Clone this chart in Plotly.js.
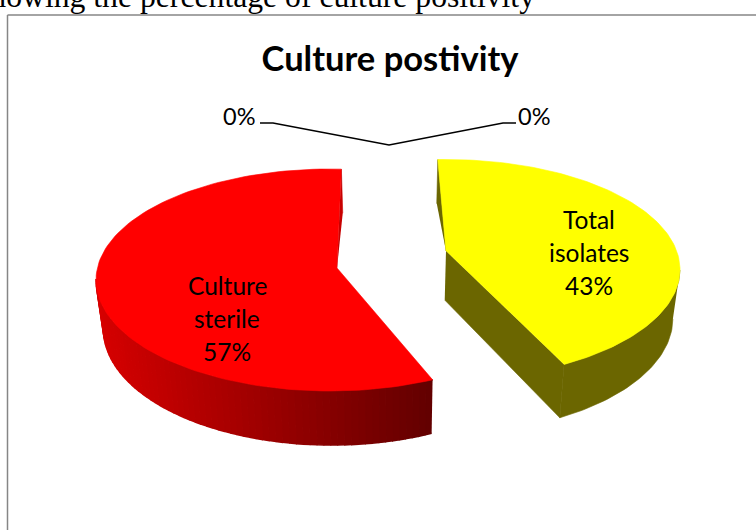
<!DOCTYPE html>
<html><head><meta charset="utf-8">
<script src="https://cdn.plot.ly/plotly-3.0.1.min.js"></script>
<style>html,body{margin:0;padding:0;background:#fff;overflow:hidden}#c{width:756px;height:530px}</style>
</head><body><div id="c"></div>
<script>
// ---- data ----
const categories = ['Culture sterile', 'Total isolates', '', ''];
const labelLines = [['Culture', 'sterile'], ['Total', 'isolates'], [], []];
const values = [57, 43, 0, 0];
const chartTitle = 'Culture postivity';
const captionText = 'showing the percentage of culture positivity';

// ---- 3-D pie projection (layout only) ----
const total = values.reduce((a, b) => a + b, 0);
const pct = values.map(v => Math.round(v / total * 100) + '%');
const rad = Math.PI / 180;
const geometry = [
  {ax: 337, ay: 268, cx: 330, cy: 280, rx: 234, ry: 111, start: 154, squeeze: 1.0175, lx: 227, ly: 285},
  {ax: 446, ay: 251, cx: 446, cy: 269.5, rx: 234, ry: 110, start: -2, squeeze: 0.98, lx: 589, ly: 219}
];
const vanishX = 395, taper = 0.975;
const wallH = v => 49 - 5 * v;
const lowerPoint = (x, y, v) => [vanishX + (x - vanishX) * taper, y + wallH(v)];

const traces = [];
const poly = (pts, color, w) => traces.push({
  type: 'scatter', mode: 'lines', x: pts.map(p => p[0]), y: pts.map(p => p[1]),
  fill: 'toself', fillcolor: color, line: {color: color, width: w === undefined ? 0.6 : w},
  hoverinfo: 'skip', showlegend: false
});
const mix = (a, b, f) => 'rgb(' + a.map((c, i) => Math.round(c + (b[i] - c) * f)).join(',') + ')';
const topColor = ['#ff0000', '#ffff00'];

values.forEach((val, i) => {
  if (!val) return;
  const g = geometry[i];
  const sweep = val / total * 360 * g.squeeze;
  const n = 120;
  const rim = [];
  for (let k = 0; k <= n; k++) {
    const t = (g.start + sweep * k / n) * rad;
    rim.push({x: g.cx + g.rx * Math.sin(t), y: g.cy - g.ry * Math.cos(t), v: Math.cos(t)});
  }
  const xs = rim.map(p => p.x), xmin = Math.min(...xs), xmax = Math.max(...xs);
  const apexLow = lowerPoint(g.ax, g.ay, 0);
  const first = rim[0], last = rim[n];
  const lowerRim = rim.map(p => lowerPoint(p.x, p.y, p.v));
  if (i === 0) {
    // red: thin sliver at the far edge, then a band darkening toward its right end
    poly([[g.ax, g.ay], [last.x, last.y], lowerRim[n]], '#c80000');
    for (let k = 0; k < n; k++) {
      const a = rim[k], b = rim[k + 1];
      if (a.v > 0 && b.v > 0) continue;
      const f = ((a.x + b.x) / 2 - xmin) / (xmax - xmin);
      poly([[a.x, a.y], [b.x, b.y], lowerRim[k + 1], lowerRim[k]], mix([214, 0, 0], [98, 0, 0], f), 1.6);
    }
  } else {
    // yellow: flat olive band on the side that faces the viewer
    poly([[g.ax, g.ay], [first.x, first.y], lowerRim[0]], '#6b6600');
    poly([[g.ax, g.ay], [last.x, last.y], lowerRim[n], apexLow], '#6b6600');
    const split = rim.findIndex(p => p.v < 0);
    const band = (from, to) => rim.slice(from, to + 1).map(p => [p.x, p.y])
      .concat(lowerRim.slice(from, to + 1).reverse());
    poly(band(split, n), '#6b6600');
  }
  poly([[g.ax, g.ay]].concat(rim.map(p => [p.x, p.y])), topColor[i]);
});

// leader lines of the two 0% slices
const zeroIdx = values.map((v, i) => v === 0 ? i : -1).filter(i => i >= 0);
const hub = [389, 145], elbowDX = 116, elbowDY = 22, tail = 13;
traces.push({
  type: 'scatter', mode: 'lines',
  x: [hub[0] - elbowDX - tail, hub[0] - elbowDX, hub[0], hub[0] + elbowDX - 2, hub[0] + elbowDX - 2 + tail],
  y: [hub[1] - elbowDY, hub[1] - elbowDY, hub[1], hub[1] - elbowDY, hub[1] - elbowDY],
  line: {color: '#000', width: 1.5}, hoverinfo: 'skip', showlegend: false
});

const font = 'Lato, "Noto Sans", sans-serif';
const anns = [];
const txt = (text, x, y, size, extra) => anns.push(Object.assign({
  text: text, x: x, y: y, xref: 'x', yref: 'y', showarrow: false,
  xanchor: 'center', yanchor: 'middle', font: {family: font, size: size, color: '#000'}
}, extra || {}));

values.forEach((val, i) => {
  if (!val) return;
  const g = geometry[i];
  labelLines[i].concat([pct[i]]).forEach((line, j) => txt(line, g.lx, g.ly + j * 33, 24.5));
});
txt(pct[zeroIdx[0]], 239, 116, 23.5);
txt(pct[zeroIdx[1]], 534, 116, 23.5);
txt(captionText, 537 / 756, 1 + 4 / 530, 31.7, {xref: 'paper', yref: 'paper', xanchor: 'right',
  font: {family: '"Liberation Serif", serif', size: 31.7, color: '#000'}});

const layout = {
  width: 756, height: 530, margin: {l: 0, r: 0, t: 0, b: 0},
  paper_bgcolor: '#fff', plot_bgcolor: '#fff',
  title: {text: '<b>' + chartTitle + '</b>', font: {family: font, size: 34.5, color: '#000'},
          x: 390 / 756, xanchor: 'center', y: 1 - 59 / 530, yanchor: 'middle'},
  xaxis: {range: [0, 756], visible: false, fixedrange: true},
  yaxis: {range: [530, 0], visible: false, fixedrange: true},
  shapes: [
    {type: 'line', xref: 'paper', yref: 'paper', x0: 7.5 / 756, x1: 1, y0: 1 - 15 / 530, y1: 1 - 15 / 530, line: {color: '#868686', width: 1.5}},
    {type: 'line', xref: 'paper', yref: 'paper', x0: 7.5 / 756, x1: 7.5 / 756, y0: 0, y1: 1 - 15 / 530, line: {color: '#868686', width: 1.5}}
  ],
  annotations: anns, showlegend: false
};
Plotly.newPlot('c', traces, layout, {staticPlot: true, displayModeBar: false});
</script></body></html>
